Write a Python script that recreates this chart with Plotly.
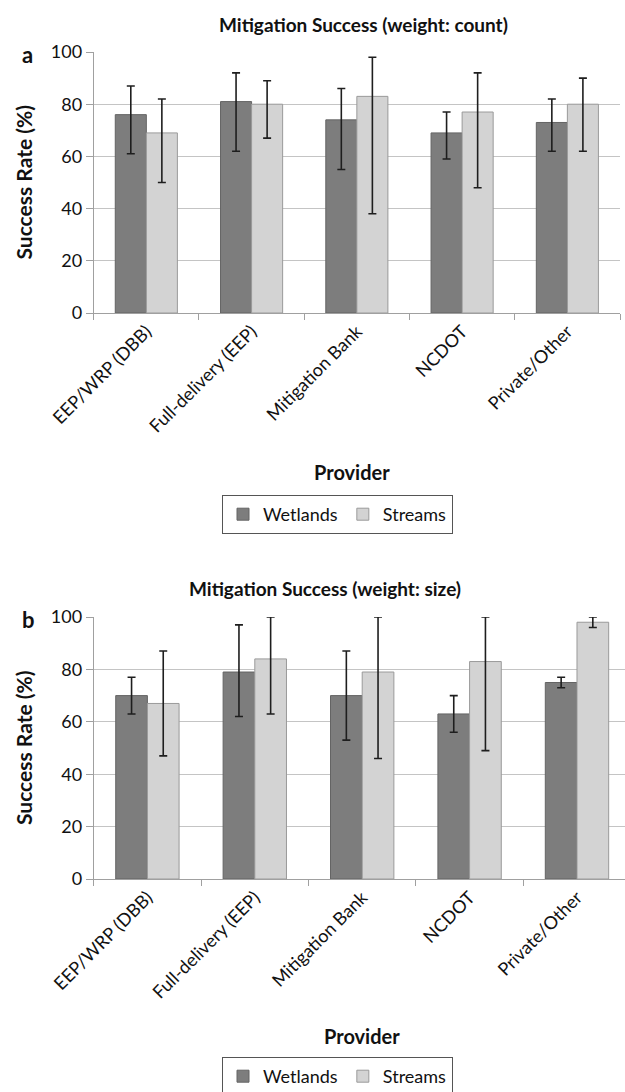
import plotly.graph_objects as go

providers = ["EEP/WRP (DBB)", "Full-delivery (EEP)", "Mitigation Bank", "NCDOT", "Private/Other"]

# Panel a (weight: count)
a_wet = [76, 81, 74, 69, 73]
a_wet_hi = [87, 92, 86, 77, 82]
a_wet_lo = [61, 62, 55, 59, 62]
a_str = [69, 80, 83, 77, 80]
a_str_hi = [82, 89, 98, 92, 90]
a_str_lo = [50, 67, 38, 48, 62]

# Panel b (weight: size)
b_wet = [70, 79, 70, 63, 75]
b_wet_hi = [77, 97, 87, 70, 77]
b_wet_lo = [63, 62, 53, 56, 73]
b_str = [67, 84, 79, 83, 98]
b_str_hi = [87, 100, 100, 100, 100]
b_str_lo = [47, 63, 46, 49, 96]

y_ticks = [0, 20, 40, 60, 80, 100]

W, H = 625, 1092
FONT = "Lato"
WET_FILL, WET_LINE = "#7d7d7d", "#646464"
STR_FILL, STR_LINE = "#d3d3d3", "#9a9a9a"
ERR = "#1e1e1e"


def px_x(x):
    return x / W


def px_y(y):
    return 1 - y / H


def err(vals, hi, lo):
    return dict(type="data", symmetric=False,
                array=[h - v for h, v in zip(hi, vals)],
                arrayminus=[v - l for v, l in zip(vals, lo)],
                color=ERR, thickness=1.6, width=4)


fig = go.Figure()

panels = [
    ("x", "y", "legend", a_wet, a_wet_hi, a_wet_lo, a_str, a_str_hi, a_str_lo),
    ("x2", "y2", "legend2", b_wet, b_wet_hi, b_wet_lo, b_str, b_str_hi, b_str_lo),
]
for xa, ya, lg, wv, wh, wl, sv, sh, sl in panels:
    fig.add_trace(go.Bar(x=providers, y=wv, name="Wetlands", xaxis=xa, yaxis=ya,
                         legend=lg, marker=dict(color=WET_FILL, line=dict(color=WET_LINE, width=1)),
                         error_y=err(wv, wh, wl)))
    fig.add_trace(go.Bar(x=providers, y=sv, name="Streams", xaxis=xa, yaxis=ya,
                         legend=lg, marker=dict(color=STR_FILL, line=dict(color=STR_LINE, width=1)),
                         error_y=err(sv, sh, sl)))

xax = dict(type="category", tickson="boundaries", ticks="outside", ticklen=6,
           tickcolor="#a0a0a0", showline=True, linecolor="#a0a0a0", linewidth=1,
           showgrid=False, tickangle=-45, tickfont=dict(family=FONT, size=18, color="#111"),
           automargin=False, fixedrange=True)
yax = dict(range=[0, 100], tickvals=y_ticks, ticks="outside", ticklen=7,
           tickcolor="#a0a0a0", showline=True, linecolor="#a0a0a0", linewidth=1,
           showgrid=True, gridcolor="#c4c4c4", gridwidth=1, zeroline=False,
           automargin=False, tickfont=dict(family=FONT, size=18, color="#111"))

fig.update_layout(
    width=W, height=H,
    margin=dict(l=0, r=0, t=0, b=0, autoexpand=False),
    paper_bgcolor="white", plot_bgcolor="white",
    barmode="group", bargap=0.41, bargroupgap=0,
    xaxis=dict(xax, domain=[px_x(93.7), px_x(620)], range=[-0.5, 4.5], anchor="y"),
    yaxis=dict(yax, domain=[px_y(313), px_y(52)], anchor="x"),
    xaxis2=dict(xax, domain=[px_x(93.7), 1.0], range=[-0.5, 4.447], anchor="y2"),
    yaxis2=dict(yax, domain=[px_y(879), px_y(617)], anchor="x2"),
    legend=dict(orientation="h", x=px_x(222), y=px_y(495), xanchor="left", yanchor="top",
                bordercolor="#555555", borderwidth=1, bgcolor="white",
                font=dict(family=FONT, size=18, color="#111"), itemwidth=30,
                traceorder="normal"),
    legend2=dict(orientation="h", x=px_x(222), y=px_y(1057), xanchor="left", yanchor="top",
                 bordercolor="#555555", borderwidth=1, bgcolor="white",
                 font=dict(family=FONT, size=18, color="#111"), itemwidth=30,
                 traceorder="normal"),
)

ann = []


def txt(x, y, s, size, bold=True, angle=0):
    ann.append(dict(x=px_x(x), y=px_y(y), xref="paper", yref="paper", showarrow=False,
                    text=f"<b>{s}</b>" if bold else s, textangle=angle,
                    xanchor="center", yanchor="middle",
                    font=dict(family=FONT, size=size, color="#111")))


txt(363, 24, "Mitigation Success (weight: count)", 19)
txt(27, 54, "a", 22)
txt(23, 182.5, "Success Rate (%)", 21, angle=-90)
txt(352, 472, "Provider", 20)

txt(325, 588, "Mitigation Success (weight: size)", 19)
txt(28, 619, "b", 22)
txt(23, 748, "Success Rate (%)", 21, angle=-90)
txt(362, 1036, "Provider", 20)

fig.update_layout(annotations=ann)

fig.write_html("out.html",
               config={"displayModeBar": False},
               post_script="document.body.style.margin='0';document.body.style.overflow='hidden';")
